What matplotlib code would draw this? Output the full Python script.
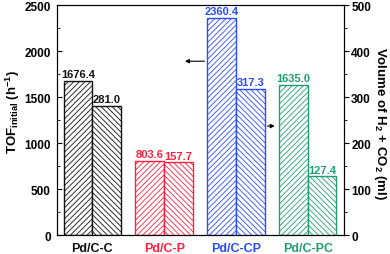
import matplotlib
matplotlib.use("Agg")
import matplotlib.pyplot as plt
import numpy as np
from matplotlib.ticker import MultipleLocator

plt.rcParams['font.family'] = ['Liberation Sans', 'DejaVu Sans']
plt.rcParams['font.weight'] = 'bold'
plt.rcParams['mathtext.fontset'] = 'custom'
plt.rcParams['mathtext.rm'] = 'Liberation Sans:bold'
plt.rcParams['mathtext.it'] = 'Liberation Sans:bold'
plt.rcParams['mathtext.bf'] = 'Liberation Sans:bold'
plt.rcParams['hatch.linewidth'] = 0.6

catalysts = ['Pd/C-C', 'Pd/C-P', 'Pd/C-CP', 'Pd/C-PC']
tof_initial = [1676.4, 803.6, 2360.4, 1635.0]
gas_volume = [281.0, 157.7, 317.3, 127.4]
colors = ['#111111', '#ff2040', '#2a4cff', '#1f9e70']

x = np.arange(len(catalysts))
w = 0.4

fig = plt.figure(figsize=(3.9, 2.55), dpi=100)
ax = fig.add_axes([0.145, 0.0745, 0.736, 0.9015])
ax2 = ax.twinx()

for i in range(len(catalysts)):
    ax.bar(x[i] - w / 2, tof_initial[i], w, facecolor='white', edgecolor=colors[i],
           hatch='//////', linewidth=1.0)
    ax2.bar(x[i] + w / 2, gas_volume[i], w, facecolor='white', edgecolor=colors[i],
            hatch='\\\\\\\\\\\\', linewidth=1.0)
    ax.text(x[i] - w / 2, tof_initial[i] + 20, f"{tof_initial[i]:.1f}", ha='center',
            va='bottom', color=colors[i], fontsize=8, fontweight='bold')
    ax2.text(x[i] + w / 2, gas_volume[i] + 4, f"{gas_volume[i]:.1f}", ha='center',
             va='bottom', color=colors[i], fontsize=8, fontweight='bold')

ax.set_xlim(-0.5, 3.5)
ax.set_ylim(0, 2500)
ax2.set_ylim(0, 500)
ax.set_xticks(x)
ax.set_xticklabels(catalysts, fontsize=9)
for lab, c in zip(ax.get_xticklabels(), colors):
    lab.set_color(c)
ax.tick_params(axis='x', length=0, pad=5)

ax.yaxis.set_major_locator(MultipleLocator(500))
ax.yaxis.set_minor_locator(MultipleLocator(250))
ax.tick_params(axis='y', which='both', direction='in', labelsize=8.5, pad=4)
ax.tick_params(axis='y', which='major', length=3.5)
ax.tick_params(axis='y', which='minor', length=2)

ax2.yaxis.set_major_locator(MultipleLocator(100))
ax2.yaxis.set_minor_locator(MultipleLocator(50))
ax2.tick_params(axis='y', which='both', direction='out', labelsize=8.5, pad=2)
ax2.tick_params(axis='y', which='major', length=3.5)
ax2.tick_params(axis='y', which='minor', length=2)

ax.set_ylabel(r'TOF$_{\mathrm{initial}}$ (h$^{-1}$)', fontsize=9.5, fontweight='bold', labelpad=1.5)
ax.yaxis.label.set_y(0.54)
ax2.set_ylabel(r'Volume of H$_2$ + CO$_2$ (ml)', fontsize=9.5, fontweight='bold',
               rotation=270, labelpad=12)
ax2.yaxis.label.set_y(0.49)

# arrows pointing to the matching axis
ax.annotate('', xy=(1.25, 1890), xytext=(1.6, 1890),
            arrowprops=dict(arrowstyle='-|>', color='black', lw=0.8, mutation_scale=6))
ax2.annotate('', xy=(2.58, 237), xytext=(2.4, 237),
             arrowprops=dict(arrowstyle='-|>', color='black', lw=0.8, mutation_scale=6))

fig.savefig('out.png', dpi=100)
